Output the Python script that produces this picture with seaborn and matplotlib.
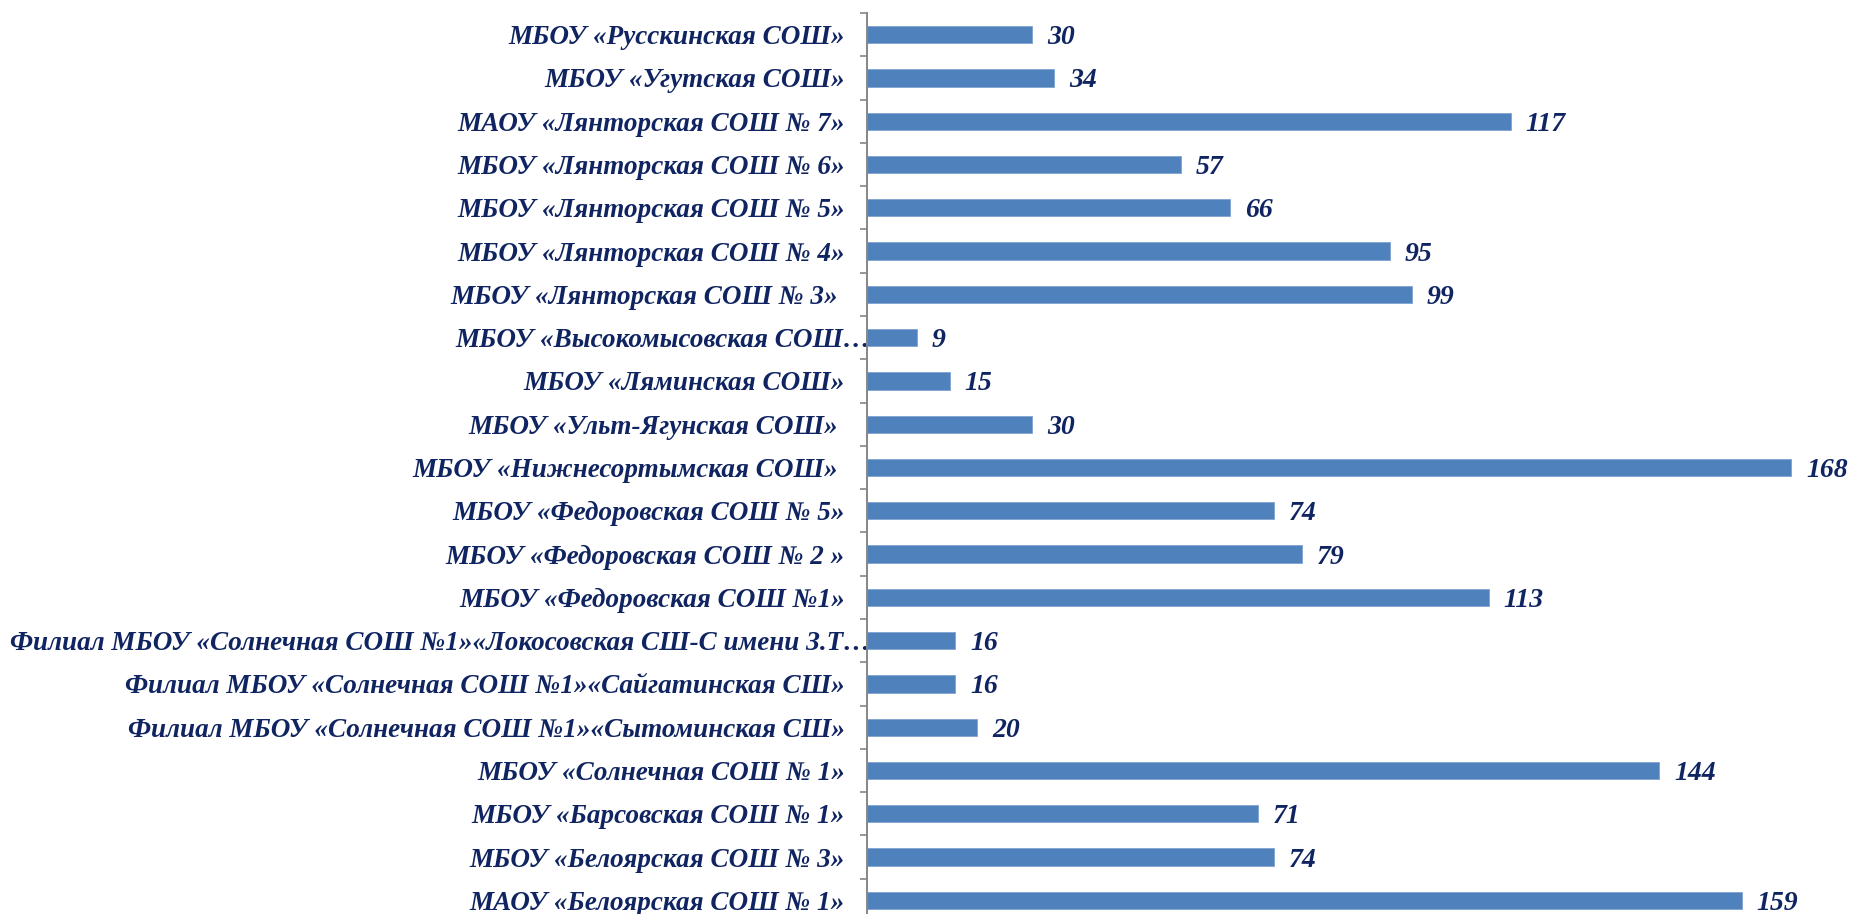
import numpy as np
import pandas as pd
import matplotlib
matplotlib.use("Agg")
import matplotlib.pyplot as plt
import matplotlib.transforms as mtransforms
import seaborn as sns

# Data, top to bottom as shown in the chart
schools = [
    "МБОУ «Русскинская СОШ»",
    "МБОУ «Угутская СОШ»",
    "МАОУ «Лянторская СОШ № 7»",
    "МБОУ «Лянторская СОШ № 6»",
    "МБОУ «Лянторская СОШ № 5»",
    "МБОУ «Лянторская СОШ № 4»",
    "МБОУ «Лянторская СОШ № 3» ",
    "МБОУ «Высокомысовская СОШ…",
    "МБОУ «Ляминская СОШ»",
    "МБОУ «Ульт-Ягунская СОШ» ",
    "МБОУ «Нижнесортымская СОШ» ",
    "МБОУ «Федоровская СОШ № 5»",
    "МБОУ «Федоровская СОШ № 2 »",
    "МБОУ «Федоровская СОШ №1»",
    "Филиал МБОУ «Солнечная СОШ №1»«Локосовская СШ-С имени З.Т…",
    "Филиал МБОУ «Солнечная СОШ №1»«Сайгатинская СШ»",
    "Филиал МБОУ «Солнечная СОШ №1»«Сытоминская СШ»",
    "МБОУ «Солнечная СОШ № 1»",
    "МБОУ «Барсовская СОШ № 1»",
    "МБОУ «Белоярская СОШ № 3»",
    "МАОУ «Белоярская СОШ № 1»",
]
counts = [30, 34, 117, 57, 66, 95, 99, 9, 15, 30, 168, 74, 79, 113, 16, 16, 20, 144, 71, 74, 159]

df = pd.DataFrame({"school": schools, "count": counts})

sns.set_style("white")
plt.rcParams['font.family'] = ['Liberation Serif', 'DejaVu Serif']

text_color = "#0F2461"
bar_color = "#4F81BD"
axis_color = "#868686"

fig = plt.figure(figsize=(18.52, 9.14), dpi=100)
# axis spans 13 px .. 922 px from the top; the bottom row runs slightly off the canvas
ax = fig.add_axes([867 / 1852, 1 - 922 / 914, 1 - 867 / 1852, 909 / 914])

sns.barplot(data=df, x="count", y="school", orient="h", color=bar_color,
            width=0.4, saturation=1, edgecolor="#7FA3D1", linewidth=0.6, ax=ax)

ax.set_xlim(0, (1852 - 867) / 5.5)
ax.set_ylim(len(schools) - 0.5, -0.5)

value_texts = ax.bar_label(ax.containers[0], labels=[str(v) for v in counts], padding=11,
                           fontsize=20, fontweight="bold", fontstyle="italic",
                           color=text_color)
for t in value_texts:
    t.set_va("center_baseline")

# axes cosmetics
for side in ["top", "right", "bottom"]:
    ax.spines[side].set_visible(False)
ax.spines["left"].set_color(axis_color)
ax.spines["left"].set_linewidth(1.4)
ax.set_xticks([])
ax.set_xlabel("")
ax.set_ylabel("")
ax.set_yticks(np.arange(len(schools)))
ax.set_yticklabels(schools, fontsize=19.5, fontweight="bold", fontstyle="italic",
                   color=text_color)
ax.set_yticks(np.arange(-0.5, len(schools)), minor=True)
ax.tick_params(axis="y", which="major", length=0, pad=16)
ax.tick_params(axis="y", which="minor", length=5, width=1.2, color=axis_color, left=True)

# truncated labels run up to the axis line, as in the original
shift = mtransforms.ScaledTranslation(0.26, 0, fig.dpi_scale_trans)
for lab in ax.get_yticklabels():
    if lab.get_text().endswith("…"):
        lab.set_transform(lab.get_transform() + shift)

fig.savefig("out.png", dpi=100)
